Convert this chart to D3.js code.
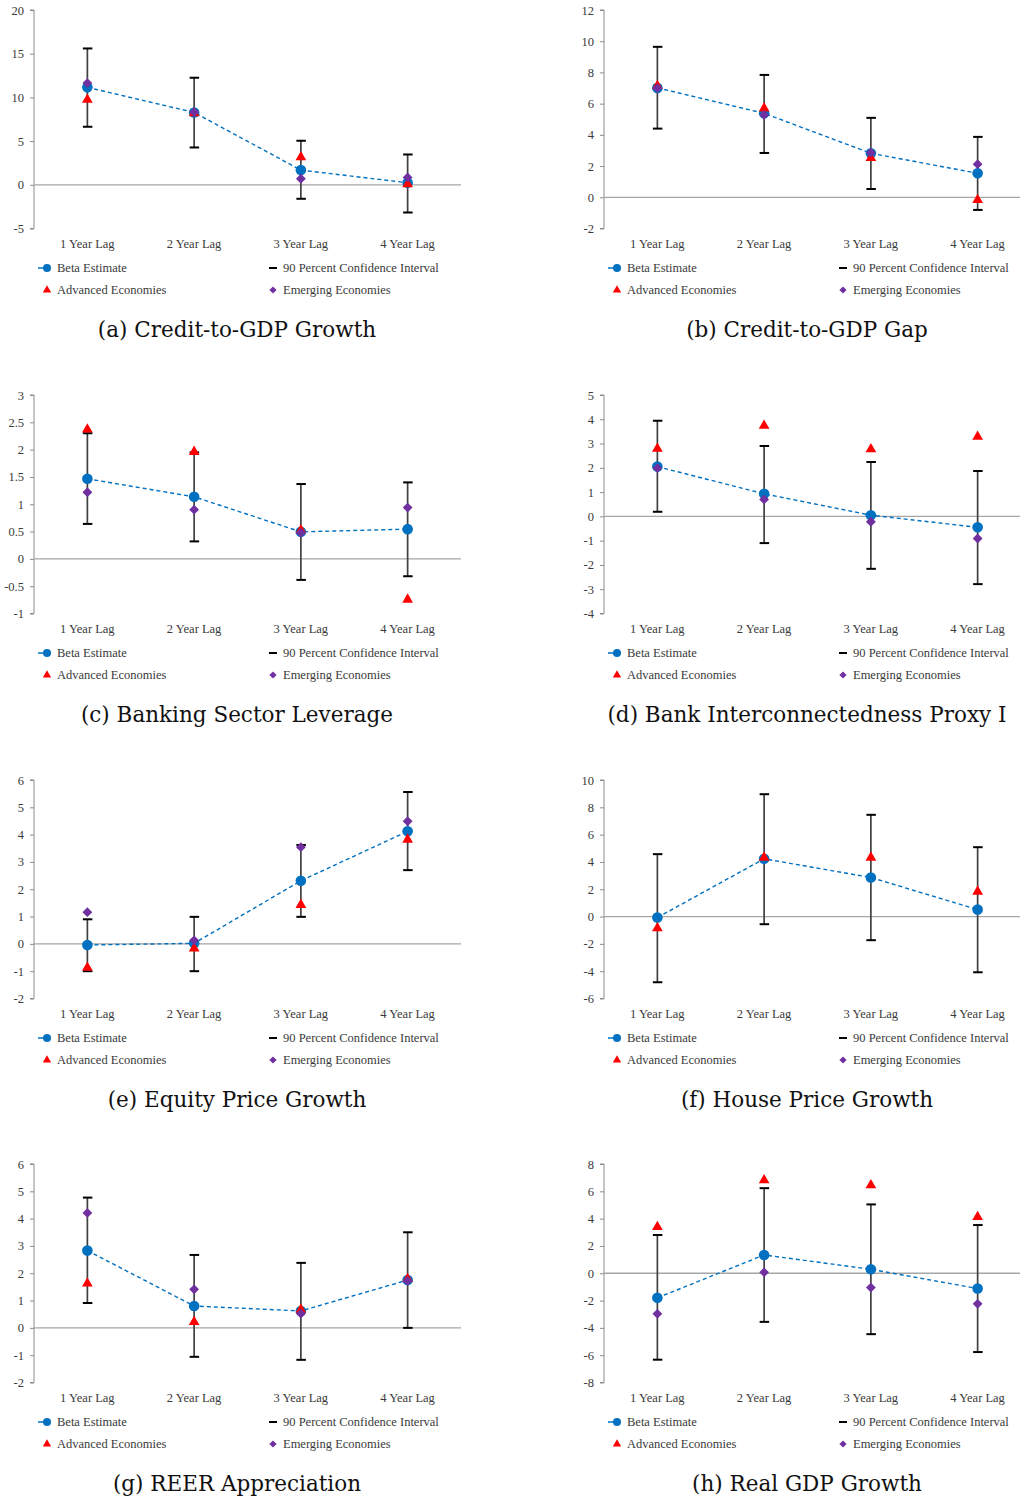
<!DOCTYPE html>
<html>
<head>
<meta charset="utf-8">
<script src="https://cdn.jsdelivr.net/npm/d3@7"></script>
<style>
  body { margin: 0; background: #fff; }
  svg { display: block; }
</style>
</head>
<body>
<div id="chart"></div>
<script>
// categories
const lags = ["1 Year Lag", "2 Year Lag", "3 Year Lag", "4 Year Lag"];

// (a) Credit-to-GDP Growth
const creditGrowthBeta = [11.15, 8.28, 1.68, 0.23];
const creditGrowthLow = [6.64, 4.27, -1.6, -3.17];
const creditGrowthHigh = [15.6, 12.25, 5.04, 3.47];
const creditGrowthAdv = [9.73, 8.2, 3.17, 0.08];
const creditGrowthEm = [11.64, 8.32, 0.69, 0.84];
const creditGrowthTicks = [-5, 0, 5, 10, 15, 20];

// (b) Credit-to-GDP Gap
const creditGapBeta = [7.01, 5.38, 2.82, 1.54];
const creditGapLow = [4.4, 2.84, 0.53, -0.81];
const creditGapHigh = [9.64, 7.84, 5.09, 3.87];
const creditGapAdv = [7.14, 5.7, 2.52, -0.17];
const creditGapEm = [6.99, 5.28, 2.86, 2.12];
const creditGapTicks = [-2, 0, 2, 4, 6, 8, 10, 12];

// (c) Banking Sector Leverage
const leverageBeta = [1.466, 1.136, 0.495, 0.544];
const leverageLow = [0.64, 0.32, -0.385, -0.318];
const leverageHigh = [2.3, 1.95, 1.37, 1.4];
const leverageAdv = [2.37, 1.96, 0.525, -0.745];
const leverageEm = [1.22, 0.9, 0.476, 0.94];
const leverageTicks = [-1, -0.5, 0, 0.5, 1, 1.5, 2, 2.5, 3];

// (d) Bank Interconnectedness Proxy I
const interconBeta = [2.05, 0.93, 0.05, -0.45];
const interconLow = [0.19, -1.1, -2.16, -2.79];
const interconHigh = [3.94, 2.9, 2.24, 1.87];
const interconAdv = [2.79, 3.74, 2.77, 3.28];
const interconEm = [1.99, 0.7, -0.22, -0.91];
const interconTicks = [-4, -3, -2, -1, 0, 1, 2, 3, 4, 5];

// (e) Equity Price Growth
const equityBeta = [-0.04, 0.02, 2.31, 4.12];
const equityLow = [-1.0, -1.0, 0.99, 2.7];
const equityHigh = [0.9, 0.99, 3.62, 5.56];
const equityAdv = [-0.87, -0.17, 1.43, 3.82];
const equityEm = [1.16, 0.13, 3.54, 4.49];
const equityTicks = [-2, -1, 0, 1, 2, 3, 4, 5, 6];

// (f) House Price Growth
const houseBeta = [-0.07, 4.23, 2.86, 0.51];
const houseLow = [-4.81, -0.56, -1.73, -4.08];
const houseHigh = [4.57, 8.96, 7.45, 5.08];
const houseAdv = [-0.85, 4.32, 4.32, 1.83];
const houseEm = [null, null, null, null];
const houseTicks = [-6, -4, -2, 0, 2, 4, 6, 8, 10];

// (g) REER Appreciation
const reerBeta = [2.83, 0.8, 0.62, 1.75];
const reerLow = [0.91, -1.06, -1.17, 0.0];
const reerHigh = [4.77, 2.67, 2.38, 3.5];
const reerAdv = [1.63, 0.22, 0.67, 1.79];
const reerEm = [4.21, 1.41, 0.52, 1.72];
const reerTicks = [-2, -1, 0, 1, 2, 3, 4, 5, 6];

// (h) Real GDP Growth
const gdpBeta = [-1.8, 1.34, 0.29, -1.12];
const gdpLow = [-6.33, -3.56, -4.46, -5.77];
const gdpHigh = [2.8, 6.23, 5.04, 3.53];
const gdpAdv = [3.39, 6.82, 6.45, 4.12];
const gdpEm = [-2.97, 0.07, -1.05, -2.24];
const gdpTicks = [-8, -6, -4, -2, 0, 2, 4, 6, 8];

const legendLabels = ["Beta Estimate", "90 Percent Confidence Interval", "Advanced Economies", "Emerging Economies"];

const panels = [
  { title: "(a) Credit-to-GDP Growth", beta: creditGrowthBeta, lo: creditGrowthLow, hi: creditGrowthHigh, adv: creditGrowthAdv, em: creditGrowthEm, ticks: creditGrowthTicks },
  { title: "(b) Credit-to-GDP Gap", beta: creditGapBeta, lo: creditGapLow, hi: creditGapHigh, adv: creditGapAdv, em: creditGapEm, ticks: creditGapTicks },
  { title: "(c) Banking Sector Leverage", beta: leverageBeta, lo: leverageLow, hi: leverageHigh, adv: leverageAdv, em: leverageEm, ticks: leverageTicks },
  { title: "(d) Bank Interconnectedness Proxy I", beta: interconBeta, lo: interconLow, hi: interconHigh, adv: interconAdv, em: interconEm, ticks: interconTicks },
  { title: "(e) Equity Price Growth", beta: equityBeta, lo: equityLow, hi: equityHigh, adv: equityAdv, em: equityEm, ticks: equityTicks },
  { title: "(f) House Price Growth", beta: houseBeta, lo: houseLow, hi: houseHigh, adv: houseAdv, em: houseEm, ticks: houseTicks },
  { title: "(g) REER Appreciation", beta: reerBeta, lo: reerLow, hi: reerHigh, adv: reerAdv, em: reerEm, ticks: reerTicks },
  { title: "(h) Real GDP Growth", beta: gdpBeta, lo: gdpLow, hi: gdpHigh, adv: gdpAdv, em: gdpEm, ticks: gdpTicks },
];

const width = 1020;
const height = 1499;
const colOffset = 570;
const rowTops = [10, 395, 780, 1164];
const plotLeft = 34;
const plotWidth = 427;
const plotHeight = 218.5;

const blue = "#0070c0";
const red = "#ff0000";
const purple = "#7030a0";
const textColor = "#3a3a3a";
const labelFont = "'Liberation Serif', serif";
const labelSize = "12.5px";

const svg = d3.select("#chart")
  .append("svg")
  .attr("width", width)
  .attr("height", height)
  .attr("viewBox", [0, 0, width, height]);

svg.append("rect").attr("width", width).attr("height", height).attr("fill", "#fff");

const triangle = d3.symbol().type(d3.symbolTriangle).size(50);
const diamond = d3.symbol().type(d3.symbolSquare).size(48);

panels.forEach((p, i) => {
  const ox = (i % 2) * colOffset;
  const oy = rowTops[Math.floor(i / 2)];

  const x = d3.scaleBand()
    .domain(lags)
    .range([plotLeft, plotLeft + plotWidth]);
  const cx = (k) => x(lags[k]) + x.bandwidth() / 2;

  const y = d3.scaleLinear()
    .domain(d3.extent(p.ticks))
    .range([plotHeight, 0]);

  const g = svg.append("g").attr("transform", `translate(${ox},${oy})`);

  // y axis
  const ax = g.append("g")
    .attr("transform", `translate(${plotLeft},0)`)
    .call(d3.axisLeft(y).tickValues(p.ticks).tickSize(4).tickPadding(6).tickFormat(d => String(d)));
  ax.select(".domain").attr("stroke", "#8c8c8c").attr("d", `M-4,${y(p.ticks[p.ticks.length - 1])}H0V${y(p.ticks[0])}H-4`);
  ax.selectAll(".tick line").attr("stroke", "#8c8c8c");
  ax.selectAll(".tick text")
    .attr("fill", textColor)
    .style("font", `${labelSize} ${labelFont}`);

  // zero line
  g.append("line")
    .attr("x1", plotLeft).attr("x2", plotLeft + plotWidth)
    .attr("y1", y(0)).attr("y2", y(0))
    .attr("stroke", "#a6a6a6")
    .attr("stroke-width", 1.3);

  // category labels
  g.append("g").selectAll("text")
    .data(lags)
    .join("text")
    .attr("x", (d, k) => cx(k))
    .attr("y", 238)
    .attr("text-anchor", "middle")
    .attr("fill", textColor)
    .style("font", `${labelSize} ${labelFont}`)
    .text(d => d);

  // confidence intervals
  const bars = g.append("g").selectAll("g")
    .data(lags.map((d, k) => k))
    .join("g");
  bars.append("line")
    .attr("x1", k => cx(k)).attr("x2", k => cx(k))
    .attr("y1", k => y(p.hi[k])).attr("y2", k => y(p.lo[k]))
    .attr("stroke", "#404040")
    .attr("stroke-width", 1.7);
  bars.selectAll(".cap")
    .data(k => [p.lo[k], p.hi[k]].map(v => ({ k, v })))
    .join("line")
    .attr("class", "cap")
    .attr("x1", d => cx(d.k) - 4.5).attr("x2", d => cx(d.k) + 5)
    .attr("y1", d => y(d.v)).attr("y2", d => y(d.v))
    .attr("stroke", "#000")
    .attr("stroke-width", 2);

  // beta line
  g.append("path")
    .datum(p.beta)
    .attr("fill", "none")
    .attr("stroke", blue)
    .attr("stroke-width", 1.4)
    .attr("stroke-dasharray", "4,3")
    .attr("d", d3.line().x((d, k) => cx(k)).y(d => y(d)));

  g.append("g").selectAll("circle")
    .data(p.beta)
    .join("circle")
    .attr("cx", (d, k) => cx(k))
    .attr("cy", d => y(d))
    .attr("r", 5.3)
    .attr("fill", blue);

  g.append("g").selectAll("path")
    .data(p.adv.map((v, k) => ({ v, k })).filter(d => d.v != null))
    .join("path")
    .attr("transform", d => `translate(${cx(d.k)},${y(d.v)})`)
    .attr("d", triangle)
    .attr("fill", red);

  g.append("g").selectAll("path")
    .data(p.em.map((v, k) => ({ v, k })).filter(d => d.v != null))
    .join("path")
    .attr("transform", d => `translate(${cx(d.k)},${y(d.v)}) rotate(45)`)
    .attr("d", diamond)
    .attr("fill", purple);

  // legend
  const lg = g.append("g").style("font", `${labelSize} ${labelFont}`).attr("fill", textColor);
  const row1 = 258, row2 = 280;
  lg.append("line").attr("x1", 38).attr("x2", 50).attr("y1", row1).attr("y2", row1)
    .attr("stroke", blue).attr("stroke-width", 1.5);
  lg.append("circle").attr("cx", 47).attr("cy", row1).attr("r", 4).attr("fill", blue);
  lg.append("line").attr("x1", 269).attr("x2", 277).attr("y1", row1).attr("y2", row1)
    .attr("stroke", "#000").attr("stroke-width", 2);
  lg.append("path").attr("transform", `translate(47,${row2})`)
    .attr("d", d3.symbol().type(d3.symbolTriangle).size(30)).attr("fill", red);
  lg.append("path").attr("transform", `translate(273,${row2}) rotate(45)`)
    .attr("d", d3.symbol().type(d3.symbolSquare).size(26)).attr("fill", purple);
  const lpos = [[57, row1], [283, row1], [57, row2], [283, row2]];
  lg.selectAll("text")
    .data(legendLabels)
    .join("text")
    .attr("x", (d, k) => lpos[k][0])
    .attr("y", (d, k) => lpos[k][1])
    .attr("dy", "0.35em")
    .text(d => d);

  // caption
  g.append("text")
    .attr("x", 237)
    .attr("y", 319)
    .attr("dy", "0.35em")
    .attr("text-anchor", "middle")
    .attr("fill", "#111")
    .style("font", `21.5px 'DejaVu Serif', serif`)
    .text(p.title);
});
</script>
</body>
</html>
